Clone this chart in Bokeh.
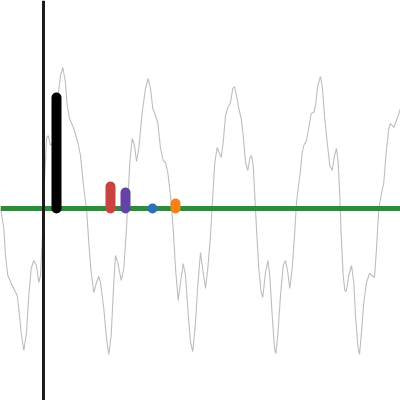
from bokeh.plotting import figure
from bokeh.embed import file_html
from bokeh.resources import INLINE

# Waveform (x along the time axis, y above the baseline)
wave_x = [0, 3.3, 5, 7.3, 11.7, 16.7, 18.3, 20.7, 23.3, 26, 28.3, 30.7, 33.3, 36, 38.3, 40,
          41.7, 43.3, 46, 47.7, 50, 53, 56, 58, 60, 62.3, 65, 66.7, 69, 73.3, 77.3, 80,
          83.3, 86, 88.3, 90.7, 93.3, 96, 98.3, 100, 103.3, 106, 108.3, 110.7, 113.3, 115,
          117.3, 120.7, 123.3, 126, 127.3, 129.3, 131.7, 134, 136, 138.3, 141.7, 145, 147.7,
          150, 152.3, 155, 157.3, 160, 162.7, 165, 167.3, 170, 172.7, 175, 177.7, 180, 182.7,
          185, 187.3, 190, 192.3, 195, 197.3, 200, 202.7, 205, 207.3, 210, 212.3, 214.3,
          216.7, 219, 220.7, 222.7, 225, 227.3, 230, 232.3, 234, 236, 238.3, 240.7, 242.7,
          245, 247.3, 249.3, 251, 252.7, 254.3, 256, 258.3, 260.7, 262.3, 265, 267.3, 269.3,
          271.7, 274, 275.3, 277.3, 280, 282.7, 285, 287.3, 289.3, 291.7, 294, 296, 297.7,
          300, 301.7, 303.3, 306, 308.3, 310.7, 313.3, 315, 317.3, 320, 322, 324, 326.7,
          329.3, 331.7, 334, 336, 337.7, 339.3, 340.7, 342.7, 344.3, 345.7, 348.3, 351,
          353.3, 355, 357.3, 359, 361, 363.3, 366, 369, 371.7, 374, 376, 378.3, 380.7,
          383.3, 385.7, 388.3, 390, 393.3, 396.7, 400]
wave_y = [1, -20, -47, -67, -77, -87, -100, -124, -142, -124, -87, -60, -52, -57, -74, -67,
          -34, 13, 70, 73, 63, 68, 93, 116, 133, 141, 126, 103, 90, 80, 66, 53,
          20, 0, -34, -64, -84, -74, -68, -74, -100, -130, -146, -127, -74, -47,
          -54, -72, -60, -20, 6, 46, 70, 63, 47, 60, 96, 120, 130,
          120, 100, 93, 86, 60, 48, 46, 36, 13, -20, -60, -92, -74, -55,
          -67, -100, -134, -143, -114, -77, -44, -64, -80, -60, -27, 13, 46,
          61, 55, 51, 66, 93, 101, 106, 120, 122, 113, 100, 90, 73,
          46, 38, 50, 53, 43, 13, -20, -60, -84, -89, -64, -52, -67,
          -107, -140, -145, -127, -87, -57, -52, -64, -80, -60, -27, 6, 20,
          38, 56, 63, 68, 81, 95, 96, 103, 123, 132, 120, 93, 66,
          43, 38, 53, 60, 46, 13, -27, -67, -82, -83, -67, -57,
          -74, -107, -137, -146, -124, -94, -74, -65, -67, -69, -40, 0, 13,
          26, 56, 80, 85, 81, 90, 100]

# Spectrum bars: position and height
bar_x = [56, 110, 125, 152, 175]
bar_h = [111, 22, 16, 0, 5]
bar_colors = ["#000000", "#c94343", "#6543a6", "#2f6fb6", "#fa8116"]

p = figure(width=400, height=400, x_range=(0, 400), y_range=(-192, 208),
           output_backend="svg", toolbar_location=None, min_border=0)
p.axis.visible = False
p.grid.visible = False
p.outline_line_color = None

p.line(wave_x, wave_y, line_color="#bdbdbd", line_width=1.1)

# baseline and vertical marker
p.segment(x0=[0], y0=[0], x1=[400], y1=[0], line_color="#2f8a3e", line_width=5)
p.segment(x0=[43], y0=[-192], x1=[43], y1=[208], line_color="#1c1c1c", line_width=3)

p.segment(x0=bar_x, y0=[0] * len(bar_x), x1=bar_x, y1=bar_h,
          line_color=bar_colors, line_width=10, line_cap="round")

open("out.html", "w").write(file_html(p, INLINE))
